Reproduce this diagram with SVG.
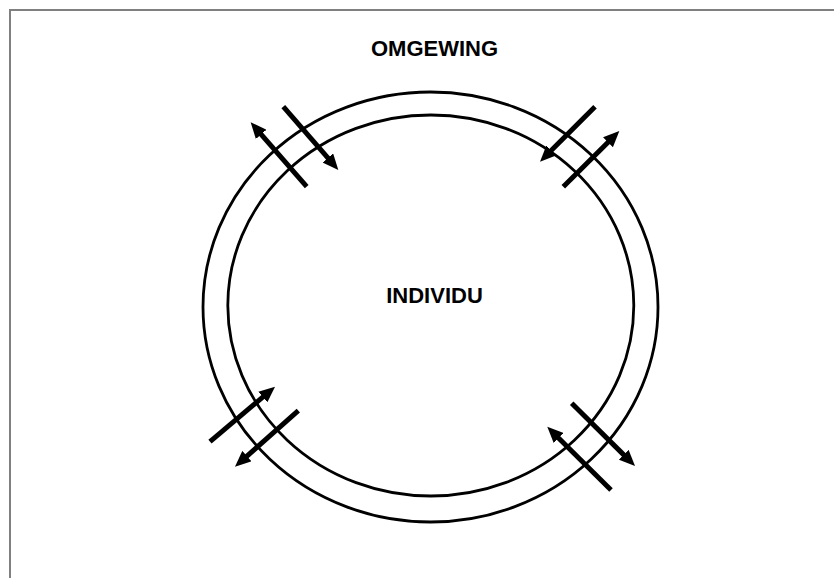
<svg xmlns="http://www.w3.org/2000/svg" width="834" height="578" viewBox="0 0 834 578">
<style>
.ring{fill:none;stroke:#000;stroke-width:2.8}
.arr{stroke:#000;stroke-width:5;fill:none;marker-end:url(#ah)}
.lbl{font-family:"Liberation Sans",Arial,sans-serif;font-weight:bold;font-size:22px;fill:#000;text-anchor:middle}
</style>
<defs>
<marker id="ah" markerUnits="userSpaceOnUse" markerWidth="16" markerHeight="14" refX="3" refY="7" orient="auto">
<path d="M0,0 L16,7 L0,14 z" fill="#000"/>
</marker>
</defs>
<rect x="0" y="0" width="834" height="578" fill="#fff"/>
<rect x="10" y="10" width="840" height="600" fill="none" stroke="#808080" stroke-width="2"/>
<g id="omgewing">
<ellipse class="ring" cx="430.5" cy="307" rx="227.5" ry="215"/>
<text class="lbl" x="434.5" y="56">OMGEWING</text>
</g>
<g id="individu">
<ellipse class="ring" cx="430.8" cy="305.5" rx="203" ry="190.5"/>
<text class="lbl" x="434.5" y="303">INDIVIDU</text>
</g>
<g id="connectors">
<line class="arr" x1="306.7" y1="186.7" x2="259.2" y2="132.1"/>
<line class="arr" x1="283.3" y1="106.7" x2="329.8" y2="160.2"/>
<line class="arr" x1="595" y1="106.7" x2="549.2" y2="152.5"/>
<line class="arr" x1="563.3" y1="186.7" x2="610.1" y2="140.2"/>
<line class="arr" x1="210" y1="441.7" x2="265.1" y2="395.1"/>
<line class="arr" x1="298.3" y1="410.7" x2="244.7" y2="458.1"/>
<line class="arr" x1="571.7" y1="403.3" x2="625.8" y2="456.9"/>
<line class="arr" x1="611" y1="490" x2="556.5" y2="435.9"/>
</g>
</svg>
